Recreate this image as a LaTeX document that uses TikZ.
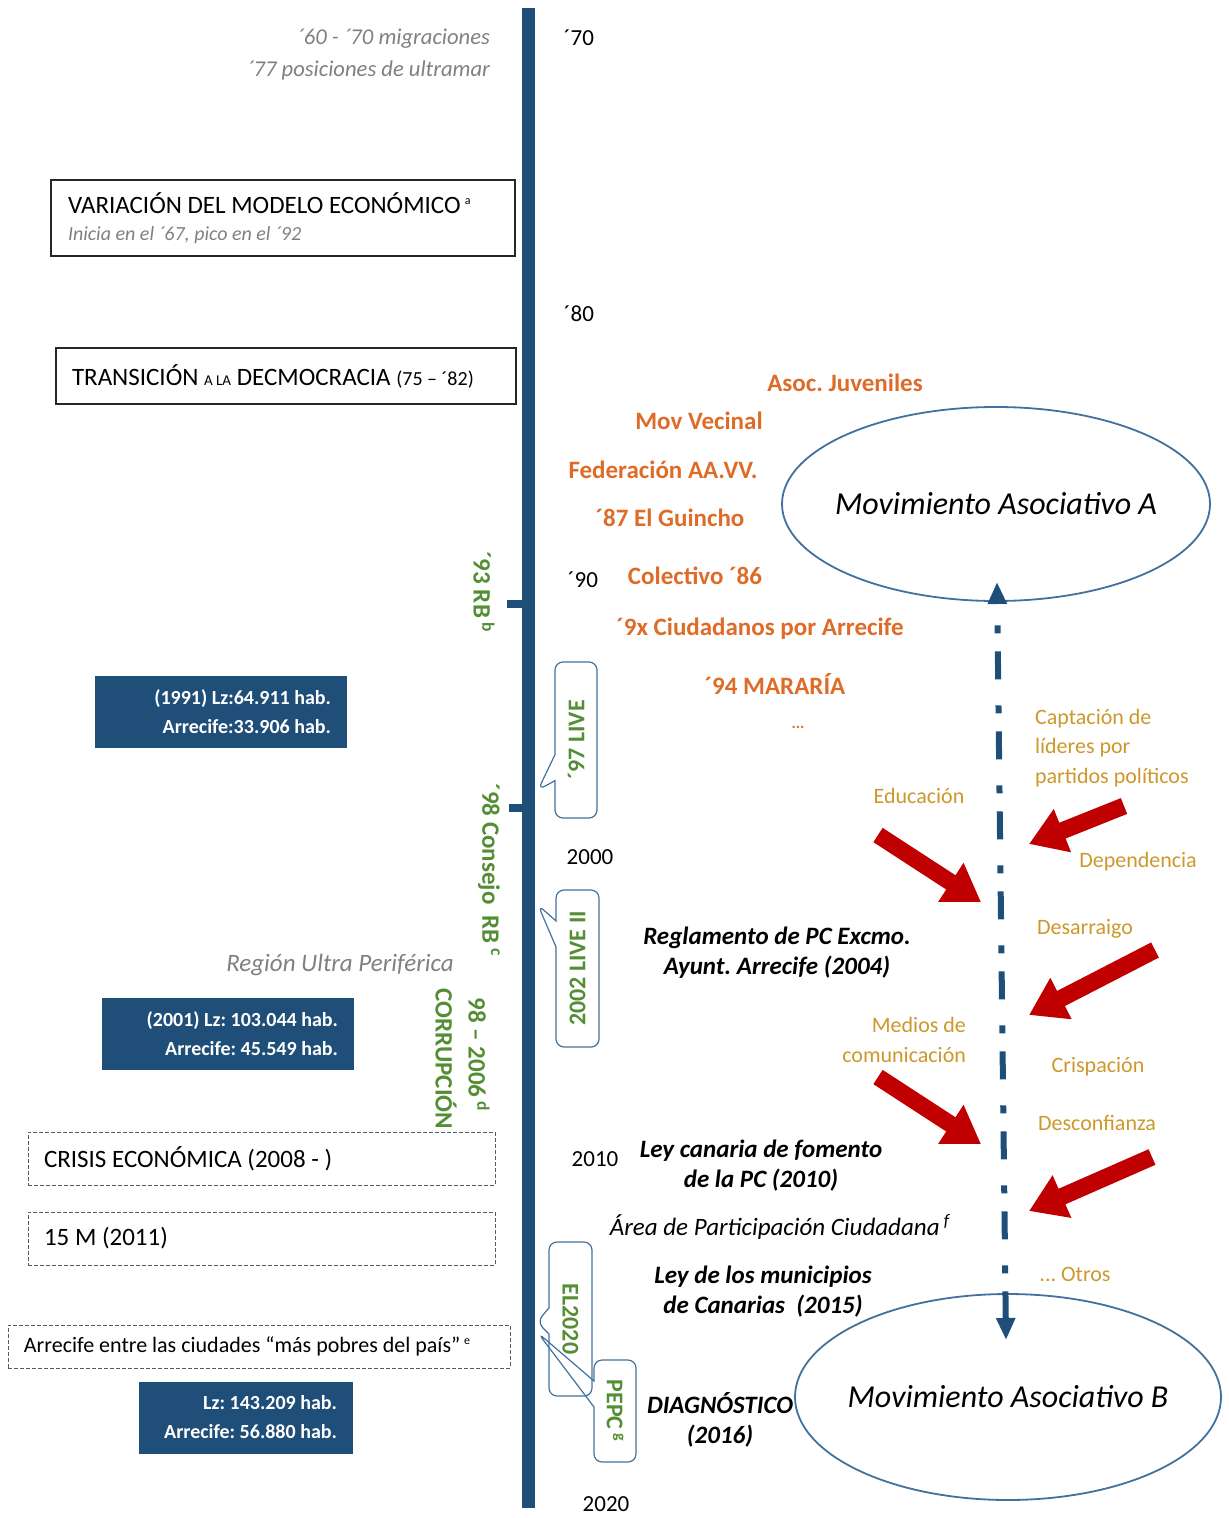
\documentclass[tikz,border=0pt]{standalone}
\usepackage{fontspec}
\setmainfont{Carlito}
\usepackage{graphicx}
\usepackage{tikz}
\usetikzlibrary{arrows.meta,shapes.geometric,shapes.callouts,positioning,calc}
\definecolor{tlblue}{RGB}{31,78,121}
\definecolor{ellblue}{RGB}{65,113,156}
\definecolor{orglbl}{RGB}{222,108,40}
\definecolor{rbgreen}{RGB}{84,142,52}
\definecolor{causegold}{RGB}{204,152,44}
\definecolor{pushred}{RGB}{192,0,0}
\definecolor{notegray}{RGB}{128,128,128}
\frenchspacing

\begin{document}
\begin{tikzpicture}[x=0.5pt, y=-0.5pt,
  year/.style={font=\fontsize{11.5}{13}\selectfont},
  note/.style={font=\fontsize{11.3}{16}\selectfont\itshape, text=notegray, align=flush right},
  framebox/.style={draw=black!85, line width=0.8pt, inner xsep=8pt, align=flush left, font=\fontsize{12.5}{14.5}\selectfont},
  dashbox/.style={draw=black!65, dash pattern=on 2pt off 1pt, line width=0.5pt, inner xsep=8pt, align=flush left, font=\fontsize{12.5}{14}\selectfont},
  popbox/.style={fill=tlblue, text=white, inner xsep=8pt, align=flush right, minimum height=36pt, font=\fontsize{10}{14.5}\selectfont\bfseries},
  rblbl/.style={text=rbgreen, rotate=-90, font=\fontsize{12.5}{14}\selectfont\bfseries},
  callbox/.style={rectangle callout, draw=ellblue, line width=0.6pt, rounded corners=4pt, inner sep=0pt, callout pointer width=13pt, text=rbgreen, font=\fontsize{12}{13}\selectfont\bfseries},
  org/.style={text=orglbl, font=\fontsize{12.5}{14}\selectfont\bfseries},
  cause/.style={text=causegold, font=\fontsize{11}{14.75}\selectfont},
  law/.style={align=center, font=\fontsize{12.5}{15}\selectfont\bfseries\itshape},
  movbox/.style={ellipse, draw=ellblue, line width=0.9pt, inner sep=0pt, font=\fontsize{16}{18}\selectfont\itshape},
  flow/.style={draw=tlblue, line width=3pt, dash pattern=on 14pt off 9pt on 4pt off 13pt, {Triangle[width=9pt,length=11pt]}-{Triangle[width=9pt,length=11pt]}},
  push/.style={draw=pushred, line width=8.5pt, -{Triangle[width=22pt,length=18pt]}}]
\useasboundingbox (0,0) rectangle (1229,1518);

\coordinate (tlTop) at (528,8);
\coordinate (tlBot) at (528,1508);
\coordinate (tick93) at (507,604);
\coordinate (tick93r) at (528,604);
\coordinate (tick98) at (509,808);
\coordinate (tick98r) at (528,808);
\draw[draw=tlblue, line width=6.5pt] (tlTop) -- (tlBot);
\draw[draw=tlblue, line width=4pt] (tick93) -- (tick93r);
\draw[draw=tlblue, line width=4pt] (tick98) -- (tick98r);

\node (y70) [year] at (579,38) {´70};
\node (y80) [year] at (579,314) {´80};
\node (y90) [year] at (583,580) {´90};
\node (y00) [year] at (590,857) {2000};
\node (y10) [year] at (595,1159) {2010};
\node (y20) [year] at (606,1504) {2020};

\node (migra) [note, anchor=east] at (497,55) {´60 - ´70 migraciones\\´77 posiciones de ultramar};
\node (modelo) [framebox, minimum width=232pt, minimum height=38pt, text width=215pt] at (283,218) {VARIACIÓN DEL MODELO ECONÓMICO\,\textsuperscript{\fontsize{6}{6}\selectfont a}\\[-1pt]{\fontsize{10}{11}\selectfont\itshape\color{notegray}Inicia en el ´67, pico en el ´92}};
\node (transicion) [framebox, minimum width=230pt, minimum height=28pt, text width=214pt] at (286,376) {TRANSICIÓN {\fontsize{7.5}{8}\selectfont A LA} DECMOCRACIA {\fontsize{10}{11}\selectfont (75 – ´82)}};
\node (pop91) [popbox, text width=110pt] at (221,712) {(1991) Lz:64.911 hab.\\Arrecife:33.906 hab.};
\node (rup) [note, font=\fontsize{12.5}{14}\selectfont\itshape] at (340,965) {Región Ultra Periférica};
\node (pop01) [popbox, text width=110pt] at (228,1034) {(2001) Lz: 103.044 hab.\\Arrecife: 45.549 hab.};
\node (crisis) [dashbox, minimum width=233.5pt, minimum height=26.5pt, text width=217.5pt] at (261.5,1158.5) {CRISIS ECONÓMICA (2008 - )};
\node (quince) [dashbox, minimum width=233.5pt, minimum height=26.5pt, text width=217.5pt] at (261.5,1238.5) {15 M (2011)};
\node (pobres) [dashbox, minimum width=251pt, minimum height=21.5pt, text width=235pt, font=\fontsize{11}{12}\selectfont] at (259,1346.5) {Arrecife entre las ciudades “más pobres del país”\,\textsuperscript{\fontsize{6}{6}\selectfont e}};
\node (pop16) [popbox, text width=91pt] at (246,1417.5) {Lz: 143.209 hab.\\Arrecife: 56.880 hab.};

\node (rb93) [rblbl] at (484,592) {´93 RB\,\textsuperscript{b}};
\node (rb98) [rblbl] at (489,870) {´98 Consejo~ RB\,\textsuperscript{c}};
\node (corrA) [rblbl] at (479,1055) {98 – 2006\,\textsuperscript{d}};
\node (corrB) [rblbl] at (446,1059) {CORRUPCIÓN};

\node (live97) [callbox, minimum width=21pt, minimum height=78pt, callout absolute pointer={(538,790)}] at (576,740) {\rotatebox{90}{´97 LIVE}};
\node (live02) [callbox, minimum width=21.5pt, minimum height=78.5pt, callout absolute pointer={(538,905)}] at (577.5,968.5) {\rotatebox{90}{2002 LIVE II}};
\node (el2020) [callbox, minimum width=21.5pt, minimum height=77pt, callout absolute pointer={(537,1322)}] at (570.5,1319) {\rotatebox{-90}{EL2020}};
\node (pepc) [callbox, minimum width=21pt, minimum height=51pt, callout absolute pointer={(538,1333)}] at (615,1411) {\rotatebox{-90}{PEPC\,\textsuperscript{g}}};

\node (juveniles) [org] at (845,383) {Asoc. Juveniles};
\node (vecinal) [org] at (699,421) {Mov Vecinal};
\node (federacion) [org] at (663,470) {Federación AA.VV.};
\node (guincho) [org] at (670,518) {´87 El Guincho};
\node (colectivo) [org] at (695,576) {Colectivo ´86};
\node (ciudadanos) [org] at (760,629) {´9x Ciudadanos por Arrecife};
\node (mararia) [org] at (775,684) {´94 MARARÍA};
\node (etc) [org, font=\fontsize{8}{9}\selectfont\bfseries] at (798,727) {...};

\node (movA) [movbox, minimum width=214pt, minimum height=97pt] at (996,504) {\makebox[0pt]{Movimiento Asociativo A}};
\node (movB) [movbox, minimum width=213pt, minimum height=103pt] at (1008,1397) {\makebox[0pt]{Movimiento Asociativo B}};

\node (reglamento) [law] at (777,953) {Reglamento de PC Excmo.\\Ayunt. Arrecife (2004)};
\node (leycan) [law] at (761,1166) {Ley canaria de fomento\\de la PC (2010)};
\node (area) [font=\fontsize{12.5}{14}\selectfont\itshape] at (780,1227) {Área de Participación Ciudadana\,\textsuperscript{f}};
\node (leymun) [law] at (763,1292) {Ley de los municipios\\de Canarias~ (2015)};
\node (diag) [law] at (720,1420) {DIAGNÓSTICO\\(2016)};

\node (captacion) [cause, align=flush left, anchor=west] at (1028,748) {Captación de\\líderes por\\partidos políticos};
\node (educacion) [cause] at (919,796) {Educación};
\node (dependencia) [cause] at (1138,862) {Dependencia};
\node (desarraigo) [cause] at (1085,929) {Desarraigo};
\node (medios) [cause, align=flush right, anchor=east] at (973,1040) {Medios de\\comunicación};
\node (crispacion) [cause] at (1098,1067) {Crispación};
\node (desconfianza) [cause] at (1097,1123) {Desconfianza};
\node (otros) [cause] at (1075,1274) {... Otros};

\coordinate (upTip) at (997,582);
\coordinate (downTip) at (1006,1340);
\draw[flow] (downTip) -- (upTip);

\coordinate (eduTail) at (878,835);
\coordinate (eduTip) at (981,902);
\coordinate (capTail) at (1124,806);
\coordinate (capTip) at (1029,844);
\coordinate (desTail) at (1155,950);
\coordinate (desTip) at (1029,1015);
\coordinate (medTail) at (878,1077);
\coordinate (medTip) at (981,1144);
\coordinate (conTail) at (1152,1157);
\coordinate (conTip) at (1029,1211);
\draw[push] (eduTail) -- (eduTip);
\draw[push] (capTail) -- (capTip);
\draw[push] (desTail) -- (desTip);
\draw[push] (medTail) -- (medTip);
\draw[push] (conTail) -- (conTip);
\end{tikzpicture}
\end{document}
